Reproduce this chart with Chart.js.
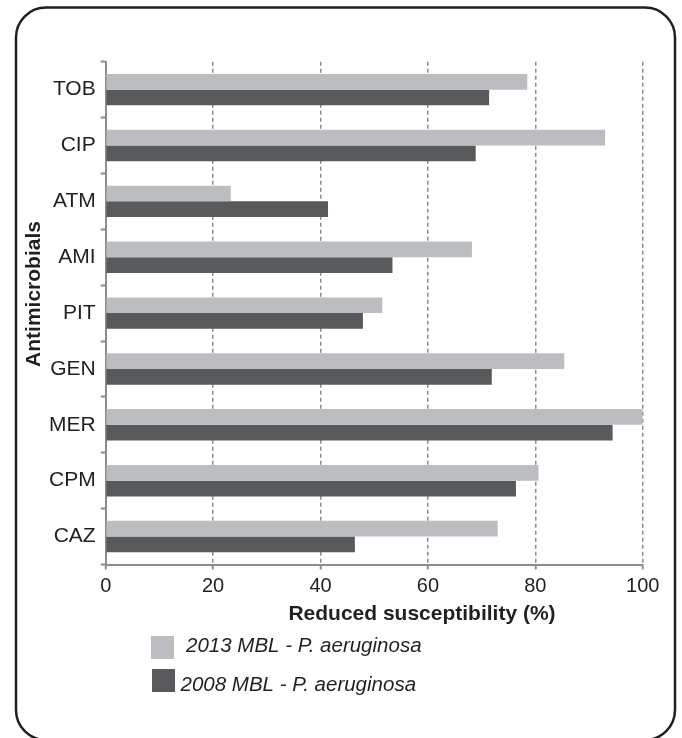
<!DOCTYPE html>
<html>
<head>
<meta charset="utf-8">
<script src="https://cdn.jsdelivr.net/npm/chart.js@4.4.1/dist/chart.umd.min.js"></script>
<style>
  html, body { margin: 0; padding: 0; background: #fff; }
  #wrap { position: relative; width: 682px; height: 738px; }
</style>
</head>
<body>
<div id="wrap"><canvas id="susChart"></canvas></div>
<script>
const drugs = ["TOB", "CIP", "ATM", "AMI", "PIT", "GEN", "MER", "CPM", "CAZ"];
const mbl2013 = [78.5, 93.0, 23.3, 68.2, 51.5, 85.4, 100, 80.6, 73.0];
const mbl2008 = [71.4, 68.9, 41.4, 53.4, 47.9, 71.9, 94.4, 76.4, 46.4];
const seriesNames = ["2013 MBL - P. aeruginosa", "2008 MBL - P. aeruginosa"];
const xTitle = "Reduced susceptibility (%)";
const yTitle = "Antimicrobials";

const ink = "#231f20";
const axisGrey = "#8c8c8e";
const font = "'Liberation Sans', Arial, sans-serif";

// frame, axis titles and the legend are drawn by hand
const decorations = {
  id: "decorations",
  beforeDraw(chart) {
    const ctx = chart.ctx;
    ctx.save();
    ctx.fillStyle = "#fff";
    ctx.fillRect(0, 0, chart.width, chart.height);
    ctx.strokeStyle = ink;
    ctx.lineWidth = 2.5;
    ctx.beginPath();
    ctx.roundRect(16, 7.5, 659, 732.5, 30); // bottom edge runs just off the page
    ctx.stroke();
    ctx.restore();
  },
  afterDraw(chart) {
    const ctx = chart.ctx;
    ctx.save();
    ctx.fillStyle = ink;
    ctx.font = "bold 21px " + font;
    ctx.textAlign = "center";
    ctx.textBaseline = "alphabetic";
    ctx.fillText(xTitle, 422, 620);

    ctx.translate(40, 294);
    ctx.rotate(-Math.PI / 2);
    ctx.fillText(yTitle, 0, 0);
    ctx.restore();

    // legend, one row per dataset
    const rows = [
      { box: [151, 636], text: [186, 651.7] },
      { box: [152, 669], text: [180.5, 690.7] },
    ];
    ctx.save();
    ctx.font = "italic 20.5px " + font;
    ctx.textAlign = "left";
    chart.data.datasets.forEach((ds, i) => {
      const r = rows[i];
      ctx.fillStyle = ds.backgroundColor;
      ctx.fillRect(r.box[0], r.box[1], 23, 23);
      ctx.fillStyle = ink;
      ctx.fillText(ds.label, r.text[0], r.text[1]);
    });
    ctx.restore();
  },
};

new Chart(document.getElementById("susChart"), {
  type: "bar",
  data: {
    labels: drugs,
    datasets: [
      {
        label: seriesNames[0],
        data: mbl2013,
        backgroundColor: "#bcbdc0",
        categoryPercentage: 0.5625,
        barPercentage: 1,
      },
      {
        label: seriesNames[1],
        data: mbl2008,
        backgroundColor: "#58595b",
        categoryPercentage: 0.5625,
        barPercentage: 1,
      },
    ],
  },
  options: {
    indexAxis: "y",
    responsive: true,
    maintainAspectRatio: false,
    animation: false,
    layout: { padding: { top: 61.7, right: 39.3, bottom: 0, left: 0 } },
    plugins: {
      legend: { display: false },
      tooltip: { enabled: false },
    },
    scales: {
      x: {
        min: 0,
        max: 100,
        ticks: {
          stepSize: 20,
          color: ink,
          font: { family: font, size: 20 },
          padding: 5,
        },
        grid: {
          color: axisGrey,
          lineWidth: 1.5,
          tickLength: 5,
          tickBorderDash: [],
          tickWidth: 2,
        },
        border: { color: axisGrey, width: 2, dash: [4, 3] },
        afterFit(scale) { scale.height = 173.5; },
      },
      y: {
        ticks: {
          color: ink,
          font: { family: font, size: 21 },
          padding: 5,
        },
        grid: {
          drawOnChartArea: false,
          color: axisGrey,
          tickLength: 5,
          tickWidth: 2,
        },
        border: { color: axisGrey, width: 2 },
        afterFit(scale) { scale.width = 105.7; },
      },
    },
  },
  plugins: [decorations],
});
</script>
</body>
</html>
